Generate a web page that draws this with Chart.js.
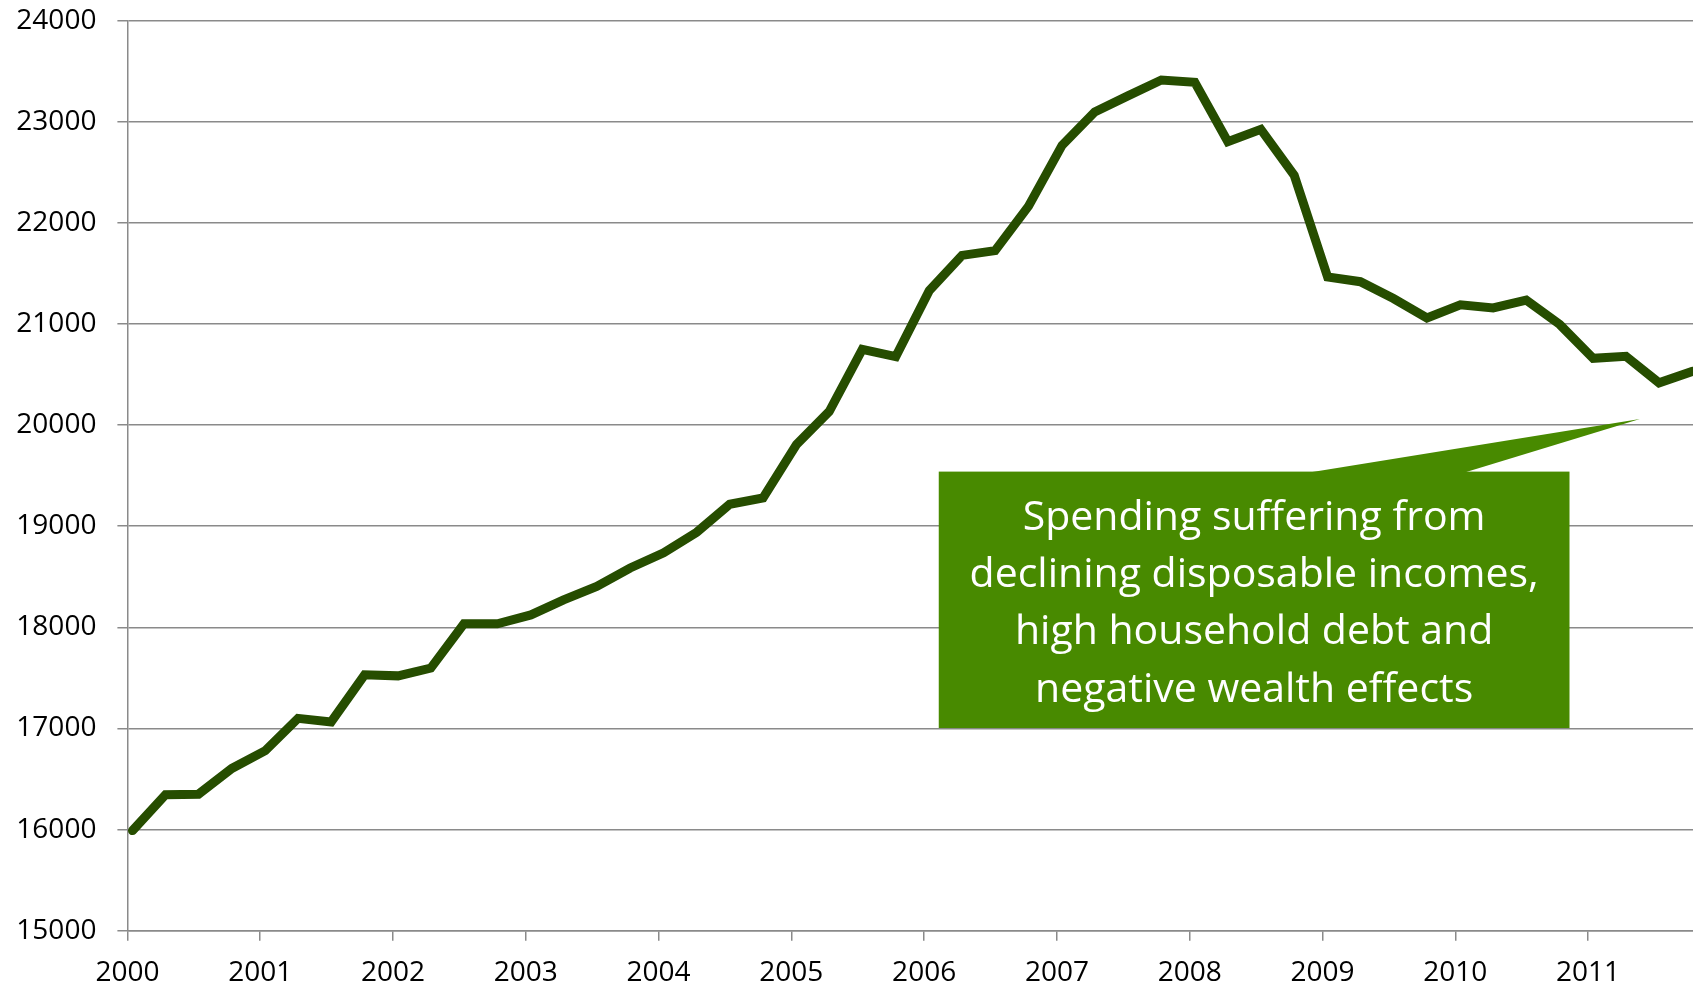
<!DOCTYPE html>
<html>
<head>
<meta charset="utf-8">
<title>Spending</title>
<script src="https://cdn.jsdelivr.net/npm/chart.js@4.4.1/dist/chart.umd.min.js"></script>
<style>
  html, body { margin: 0; padding: 0; background: #fff; }
  #spendingChart { display: block; }
</style>
</head>
<body>
<canvas id="spendingChart" width="1693" height="988"></canvas>
<script>
// quarterly observations (mid-month of each quarter start)
const periods = [
    '2000-01-15', '2000-04-15', '2000-07-15', '2000-10-15',
    '2001-01-15', '2001-04-15', '2001-07-15', '2001-10-15',
    '2002-01-15', '2002-04-15', '2002-07-15', '2002-10-15',
    '2003-01-15', '2003-04-15', '2003-07-15', '2003-10-15',
    '2004-01-15', '2004-04-15', '2004-07-15', '2004-10-15',
    '2005-01-15', '2005-04-15', '2005-07-15', '2005-10-15',
    '2006-01-15', '2006-04-15', '2006-07-15', '2006-10-15',
    '2007-01-15', '2007-04-15', '2007-07-15', '2007-10-15',
    '2008-01-15', '2008-04-15', '2008-07-15', '2008-10-15',
    '2009-01-15', '2009-04-15', '2009-07-15', '2009-10-15',
    '2010-01-15', '2010-04-15', '2010-07-15', '2010-10-15',
    '2011-01-15', '2011-04-15', '2011-07-15', '2011-10-15'
];

const spending = [
    15990, 16345, 16350, 16605,
    16780, 17100, 17065, 17530,
    17520, 17597, 18035, 18035,
    18123, 18272, 18405, 18587,
    18737, 18940, 19217, 19280,
    19808, 20134, 20748, 20678,
    21330, 21678, 21725, 22165,
    22766, 23097, 23256, 23413,
    23390, 22803, 22925, 22470,
    21465, 21418, 21252, 21060,
    21190, 21158, 21237, 20995,
    20660, 20680, 20418, 20532
];

const yearTicks = { min: 2000, max: 2011.79, step: 1 };
const valueTicks = { min: 15000, max: 24000, step: 1000 };

const calloutLines = [
    'Spending suffering from',
    'declining disposable incomes,',
    'high household debt and',
    'negative wealth effects'
];

function toDecimalYear(s) {
    const d = new Date(s + 'T00:00:00Z');
    const y = d.getUTCFullYear();
    const start = Date.UTC(y, 0, 1);
    const end = Date.UTC(y + 1, 0, 1);
    return y + (d.getTime() - start) / (end - start);
}

const points = periods.map((p, i) => ({ x: toDecimalYear(p), y: spending[i] }));

const gridGrey = '#8a8a8a';
const tickFont = { family: '"Open Sans", sans-serif', size: 28 };

// green speech-bubble annotation, anchored in data units
const calloutPlugin = {
    id: 'callout',
    afterDatasetsDraw(chart) {
        const { ctx, scales: { x, y } } = chart;
        const left = x.getPixelForValue(2006.11);
        const right = x.getPixelForValue(2010.86);
        const top = y.getPixelForValue(19540);
        const bottom = y.getPixelForValue(17004);

        ctx.save();
        ctx.fillStyle = '#488a00';
        ctx.fillRect(left, top, right - left, bottom - top);

        ctx.beginPath();
        ctx.moveTo(x.getPixelForValue(2008.9), top + 1);
        ctx.lineTo(x.getPixelForValue(2011.39), y.getPixelForValue(20061));
        ctx.lineTo(x.getPixelForValue(2010.07), top + 1);
        ctx.closePath();
        ctx.fill();

        ctx.fillStyle = '#ffffff';
        ctx.font = '41px "Open Sans", sans-serif';
        ctx.textAlign = 'center';
        ctx.textBaseline = 'alphabetic';
        const cx = (left + right) / 2;
        calloutLines.forEach((line, i) => {
            ctx.fillText(line, cx, top + 58.3 + i * 57.2);
        });
        ctx.restore();
    }
};

new Chart(document.getElementById('spendingChart').getContext('2d'), {
    type: 'line',
    data: {
        datasets: [{
            label: 'Spending',
            data: points,
            borderColor: '#264d00',
            borderWidth: 9,
            borderCapStyle: 'round',
            borderJoinStyle: 'miter',
            pointRadius: 0,
            tension: 0,
            fill: false
        }]
    },
    options: {
        responsive: false,
        animation: false,
        devicePixelRatio: 1,
        layout: { padding: { top: 20.6, right: 0, bottom: 0, left: 0 } },
        plugins: {
            legend: { display: false },
            tooltip: { enabled: false }
        },
        scales: {
            x: {
                type: 'linear',
                min: yearTicks.min,
                max: yearTicks.max,
                afterFit(scale) {
                    scale.height = 57.3;
                    scale.paddingLeft = 0;
                    scale.paddingRight = 0;
                },
                border: { color: gridGrey, width: 1.5 },
                grid: {
                    drawOnChartArea: false,
                    drawTicks: true,
                    tickLength: 10,
                    tickColor: gridGrey,
                    lineWidth: 1.5
                },
                ticks: {
                    stepSize: yearTicks.step,
                    includeBounds: false,
                    autoSkip: false,
                    maxRotation: 0,
                    padding: 16,
                    color: '#000',
                    font: tickFont,
                    callback: v => String(v)
                }
            },
            y: {
                min: valueTicks.min,
                max: valueTicks.max,
                afterFit(scale) {
                    scale.width = 127.4;
                    scale.paddingTop = 0;
                    scale.paddingBottom = 0;
                },
                border: { color: gridGrey, width: 1.5 },
                grid: {
                    color: gridGrey,
                    lineWidth: 1.5,
                    tickLength: 10,
                    tickColor: gridGrey
                },
                ticks: {
                    stepSize: valueTicks.step,
                    padding: 21,
                    color: '#000',
                    font: tickFont,
                    callback: v => String(v)
                }
            }
        }
    },
    plugins: [calloutPlugin]
});
</script>
</body>
</html>
